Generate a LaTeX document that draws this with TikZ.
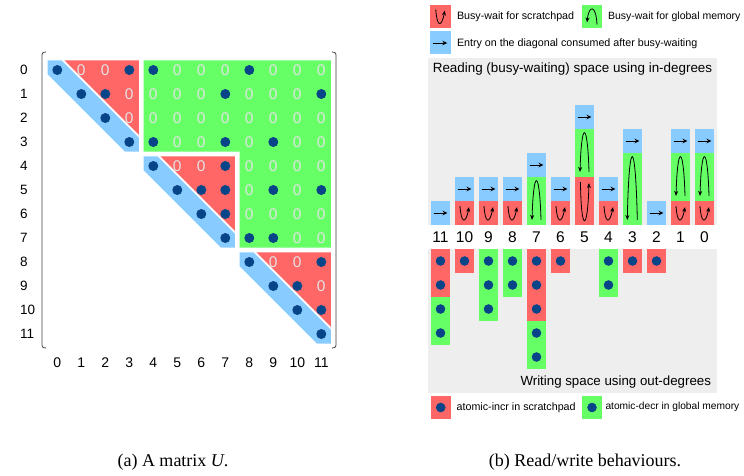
\documentclass[tikz,border=0pt]{standalone}
\usepackage{fontspec}
\setmainfont{Liberation Sans}
\newfontfamily\capfont{Liberation Serif}
\usetikzlibrary{arrows.meta}
\definecolor{cred}{RGB}{255,102,102}
\definecolor{cgreen}{RGB}{102,255,102}
\definecolor{cblue}{RGB}{136,204,255}
\definecolor{cdot}{RGB}{8,68,136}
\definecolor{cpanel}{RGB}{238,238,238}
\definecolor{czero}{RGB}{226,226,226}
\newcommand\myfs[1]{\fontsize{#1}{#1}\selectfont}
\tikzset{
  txt/.style={inner sep=0pt, outer sep=0pt},
  arrowline/.style={line width=0.9pt, -{Stealth[length=5pt,width=4.5pt]}},
  loopline/.style={line width=0.8pt, -{Stealth[length=5pt,width=4pt]}},
  parenline/.style={line width=0.8pt, black!75},
}
% red loops (scratchpad busy-wait), centred at #1,#2
\newcommand\redloopA[2]{\draw[loopline] (#1-4.5,#2-7) .. controls (#1-3.5,#2+10) and (#1+1,#2+12) .. (#1+4.5,#2-6);}
\newcommand\redloopB[2]{\draw[loopline] (#1-4,#2-19) .. controls (#1-3.5,#2+32) and (#1+3,#2+32) .. (#1+4.5,#2-18);}
% green arches (global-memory busy-wait)
\newcommand\grarchA[2]{\draw[loopline] (#1+5,#2+8) .. controls (#1+4,#2-12) and (#1-3,#2-12) .. (#1-5,#2+6);}
\newcommand\grarchB[2]{\draw[loopline] (#1+4.5,#2+19) .. controls (#1+3,#2-33) and (#1-3,#2-33) .. (#1-4.5,#2+19);}
\newcommand\grarchC[2]{\draw[loopline] (#1+4.8,#2+31) .. controls (#1+3,#2-53) and (#1-3.5,#2-53) .. (#1-5.2,#2+31);}
\newcommand\bluearrow[2]{\draw[arrowline] (#1-7,#2) -- (#1+7,#2);}
\begin{document}
\begin{tikzpicture}[x=1pt,y=-1pt]
\useasboundingbox (0,0) rectangle (744,475);

% ---------------- (a) matrix ----------------
\begin{scope}[shift={(57.3,70)},x=24pt,y=-24pt]
  \fill[cgreen] (3.6,-0.4) -- (11.4,-0.4) -- (11.4,7.4) -- (7.6,7.4) -- (7.6,3.4) -- (3.6,3.4) -- cycle;
  \foreach \b in {0,4,8}{
    \fill[cred] (\b+0.3,\b-0.4) -- (\b+3.4,\b-0.4) -- (\b+3.4,\b+2.7) -- cycle;
    \fill[cblue] (\b-0.4,\b-0.4) -- (\b+0.18,\b-0.4) -- (\b+3.4,\b+2.82) -- (\b+3.4,\b+3.4) -- (\b+2.82,\b+3.4) -- (\b-0.4,\b+0.18) -- cycle;
  }
  \foreach \i/\lst in {0/{1,2,5,6,7,9,10,11},1/{3,4,5,6,8,9,10},2/{3,4,5,6,7,8,9,10,11},3/{5,6,8,10,11},4/{5,6,8,9,10,11},5/{8,10},6/{8,9,10,11},7/{10,11},8/{9,10},9/{11}}{
    \foreach \j in \lst {
      \node[txt, text=czero, font=\myfs{15.5}] (z\i-\j) at (\j,\i) {0};
    }
  }
  \foreach \i/\j in {0/0,0/3,0/4,0/8,1/1,1/2,1/7,1/11,2/2,3/3,3/4,3/7,3/9,4/4,4/7,5/5,5/6,5/7,5/9,5/11,6/6,6/7,7/7,7/8,7/9,8/8,8/11,9/9,9/10,10/10,10/11,11/11}{
    \fill[cdot] (\j,\i) circle[radius=5pt];
  }
  \foreach \i in {0,...,11}{
    \node[txt, font=\myfs{13.5}, anchor=west] (r\i) at ([xshift=-37.3pt]0,\i) {\i};
    \node[txt, font=\myfs{14}] (c\i) at ([yshift=-293pt]\i,0) {\i};
  }
\end{scope}
\draw[parenline] (46,52) .. controls (42,52.5) .. (42,58) -- (42,342) .. controls (42,347.5) .. (46,348);
\draw[parenline] (332,52) .. controls (336,52.5) .. (336,58) -- (336,342) .. controls (336,347.5) .. (332,348);

\node[txt, font=\capfont\myfs{18}] (capa) at (173,462) {(a) A matrix \textit{U}.};

% ---------------- (b) legend ----------------
\fill[cred] (430,5) rectangle (450.5,28);
\redloopA{440.3}{16.5}
\node[txt, font=\myfs{10.7}, anchor=west] (lg1) at (457,16.7) {Busy-wait for scratchpad};
\fill[cgreen] (582,5) rectangle (602,28);
\grarchA{592}{16.5}
\node[txt, font=\myfs{10.5}, anchor=west] (lg2) at (608,16.7) {Busy-wait for global memory};
\fill[cblue] (430,31) rectangle (450.5,54);
\bluearrow{440.3}{43}
\node[txt, font=\myfs{10.7}, anchor=west] (lg3) at (457,43.3) {Entry on the diagonal consumed after busy-waiting};

% panels
\fill[cpanel] (428.3,57.5) rectangle (716.7,225);
\fill[cpanel] (428.3,249) rectangle (716.7,393);
\node[txt, font=\myfs{13.4}] (readt) at (572.5,69.5) {Reading (busy-waiting) space using in-degrees};
\node[txt, font=\myfs{13.3}, anchor=east] (writet) at (711,381.7) {Writing space using out-degrees};

% reading bars
\foreach \k/\r/\g in {11/0/0,10/1/0,9/1/0,8/1/0,7/0/2,6/1/0,5/2/2,4/1/0,3/0/3,2/0/0,1/1/2,0/1/2}{
  \pgfmathsetmacro\cx{440.5+(11-\k)*24}
  \pgfmathsetmacro\yr{225-24*\r}
  \pgfmathsetmacro\yg{\yr-24*\g}
  \pgfmathsetmacro\yb{\yg-24}
  \ifnum\r>0 \fill[cred] (\cx-9.5,\yr) rectangle (\cx+9.5,225); \fi
  \ifnum\g>0 \fill[cgreen] (\cx-9.5,\yg) rectangle (\cx+9.5,\yr); \fi
  \fill[cblue] (\cx-9.5,\yb) rectangle (\cx+9.5,\yg);
  \bluearrow{\cx}{\yb+12}
  \pgfmathsetmacro\cyr{225-12*\r}
  \pgfmathsetmacro\cyg{\yr-12*\g}
  \ifcase\r \or \redloopA{\cx}{\cyr} \or \redloopB{\cx}{\cyr} \fi
  \ifcase\g \or \or \grarchB{\cx}{\cyg} \or \grarchC{\cx}{\cyg} \fi
  \node[txt, font=\myfs{15.5}] (bl\k) at (\cx,237) {\k};
}

% writing bars
\foreach \k/\r/\g in {11/2/2,10/1/0,9/0/3,8/0/2,7/3/2,6/1/0,5/0/0,4/0/2,3/1/0,2/1/0,1/0/0,0/0/0}{
  \pgfmathsetmacro\cx{440.5+(11-\k)*24}
  \pgfmathsetmacro\yr{249+24*\r}
  \pgfmathsetmacro\yg{\yr+24*\g}
  \ifnum\r>0 \fill[cred] (\cx-9.5,249) rectangle (\cx+9.5,\yr); \fi
  \ifnum\g>0 \fill[cgreen] (\cx-9.5,\yr) rectangle (\cx+9.5,\yg); \fi
  \pgfmathtruncatemacro\n{\r+\g}
  \ifnum\n>0
    \foreach \m in {1,...,\n}{ \fill[cdot] (\cx,237+24*\m) circle[radius=4.8pt]; }
  \fi
}

% bottom legend
\fill[cred] (431,396) rectangle (450.5,419);
\fill[cdot] (440.7,407.5) circle[radius=4.8pt];
\node[txt, font=\myfs{10.7}, anchor=west] (lg4) at (456.7,407.3) {atomic-incr in scratchpad};
\fill[cgreen] (582,396) rectangle (602,419);
\fill[cdot] (592,407.5) circle[radius=4.8pt];
\node[txt, font=\myfs{10.2}, anchor=west] (lg5) at (605.5,407.3) {atomic-decr in global memory};

\node[txt, font=\capfont\myfs{18}] (capb) at (585,462) {(b) Read/write behaviours.};
\end{tikzpicture}
\end{document}
